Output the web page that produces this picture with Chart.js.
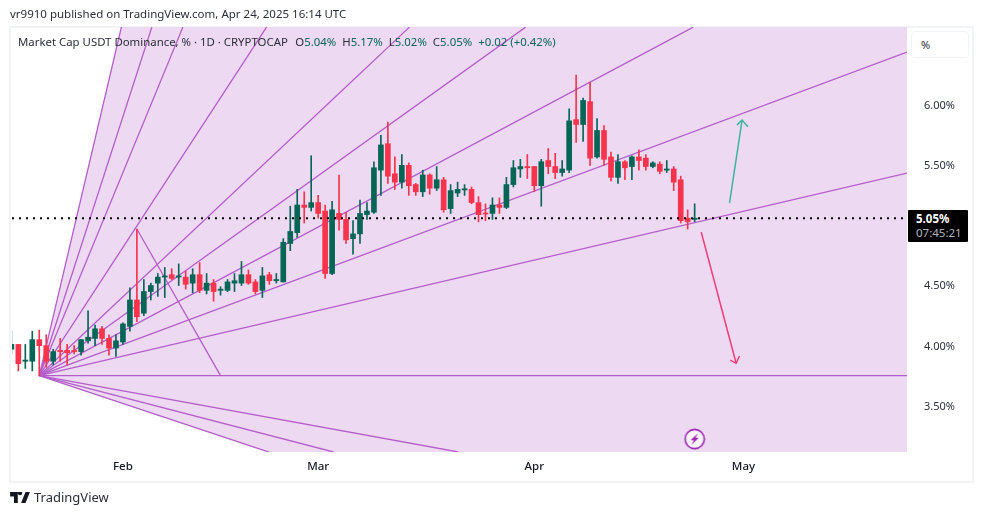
<!DOCTYPE html>
<html>
<head>
<meta charset="utf-8">
<title>Market Cap USDT Dominance</title>
<script src="https://cdn.jsdelivr.net/npm/chart.js@4"></script>
<style>
  html, body { margin: 0; padding: 0; background: #fff; overflow: hidden; }
  body { width: 983px; height: 515px; position: relative; font-family: "Noto Sans", sans-serif; color: #131722; }
  #frame { position: absolute; left: 9px; top: 26px; width: 961px; height: 453px; border: 2px solid #f2f3f5; }
  #chart { position: absolute; left: 0; top: 0; }
  .txt { position: absolute; white-space: nowrap; }
  #published { left: 10px; top: 6px; font-size: 11.5px; color: #2a2e39; }
  #legend { left: 18px; top: 34px; font-size: 11.4px; color: #2a2e39; }
  #legend b { font-weight: 400; color: #056656; }
  #legend span { margin-right: 6px; }
  #legend span.name { margin-right: 4.5px; }
  #unit { left: 911px; top: 31px; width: 56px; height: 25px; border: 1px solid #f0f3fa; border-radius: 4px; box-sizing: content-box; background: #fff; font-size: 11px; line-height: 25px; text-indent: 9px; color: #2a2e39; }
  #lastprice { left: 908px; top: 210px; width: 60px; height: 32px; background: #000; border-radius: 1px; font-size: 11.5px; line-height: 14px; text-indent: 8px; padding-top: 2px; box-sizing: border-box; color: #fff; }
  #lastprice b { display: block; }
  #lastprice i { display: block; font-style: normal; color: #b2b5be; }
  #logo { left: 10px; top: 488px; display: flex; align-items: center; font-size: 13px; color: #2a2e39; }
  #logo svg { margin-right: 4px; }
</style>
</head>
<body>
<div id="frame"></div>
<canvas id="chart" width="983" height="515"></canvas>
<div class="txt" id="published">vr9910 published on TradingView.com, Apr 24, 2025 16:14 UTC</div>
<div class="txt" id="legend"><span class="name">Market Cap USDT Dominance, % · 1D · CRYPTOCAP</span> <span>O<b>5.04%</b></span><span>H<b>5.17%</b></span><span>L<b>5.02%</b></span><span>C<b>5.05%</b></span><span><b>+0.02 (+0.42%)</b></span></div>
<div class="txt" id="unit">%</div>
<div class="txt" id="lastprice"><b>5.05%</b><i>07:45:21</i></div>
<div class="txt" id="logo"><svg width="20" height="11" viewBox="0 0 36 20"><path fill="#131722" d="M14 20H7V8H0V0h14zM28 20h-8L28 0h8zM18 6a4 4 0 1 0 0-8 4 4 0 0 0 0 8" /></svg>TradingView</div>
<script>
// candle index 0 = Jan 20 2025, one step per day
var days = [-4,-3,-2,-1,0,1,2,3,4,5,6,7,8,9,10,11,12,13,14,15,16,17,18,19,20,21,22,23,24,25,26,27,28,29,30,31,32,33,34,35,36,37,38,39,40,41,42,43,44,45,46,47,48,49,50,51,52,53,54,55,56,57,58,59,60,61,62,63,64,65,66,67,68,69,70,71,72,73,74,75,76,77,78,79,80,81,82,83,84,85,86,87,88,89,90,91,92,93,94];
var opens = [3.96,4.00,3.86,3.86,4.04,3.99,3.86,3.95,3.95,3.95,3.94,4.03,4.05,4.13,4.05,3.97,4.02,4.15,4.37,4.26,4.44,4.51,4.56,4.58,4.56,4.56,4.51,4.58,4.45,4.51,4.45,4.45,4.51,4.51,4.58,4.52,4.45,4.58,4.53,4.52,4.84,4.93,5.16,5.14,5.18,5.11,4.59,5.09,5.04,4.88,4.92,5.08,5.10,5.45,5.67,5.42,5.35,5.49,5.33,5.27,5.41,5.30,5.37,5.13,5.26,5.285,5.29,5.18,5.09,5.09,5.16,5.14,5.33,5.46,5.48,5.48,5.32,5.53,5.48,5.43,5.45,5.87,5.83,6.02,5.56,5.78,5.56,5.39,5.52,5.48,5.56,5.55,5.48,5.50,5.45,5.46,5.37,5.05,5.04];
var closes = [4.00,3.84,3.87,4.04,3.99,3.86,3.94,3.94,3.93,3.94,4.04,4.06,4.13,4.05,3.97,4.03,4.17,4.37,4.23,4.44,4.49,4.56,4.57,4.55,4.57,4.50,4.58,4.45,4.51,4.44,4.46,4.52,4.53,4.58,4.51,4.44,4.57,4.53,4.54,4.85,4.94,5.16,5.14,5.18,5.09,4.59,5.12,5.04,4.87,4.92,5.09,5.11,5.47,5.66,5.40,5.35,5.49,5.32,5.27,5.41,5.30,5.37,5.12,5.28,5.29,5.295,5.18,5.08,5.085,5.16,5.14,5.33,5.47,5.48,5.47,5.32,5.52,5.48,5.43,5.46,5.86,5.83,6.03,5.55,5.78,5.54,5.39,5.52,5.47,5.56,5.53,5.48,5.51,5.44,5.46,5.35,5.03,5.02,5.05];
var highs = [4.11,4.00,4.00,4.11,4.12,4.08,3.96,4.05,4.00,3.99,4.04,4.28,4.16,4.15,4.08,4.08,4.18,4.47,4.96,4.54,4.51,4.59,4.64,4.63,4.67,4.61,4.63,4.68,4.59,4.54,4.48,4.54,4.59,4.69,4.62,4.54,4.64,4.60,4.59,4.88,5.15,5.29,5.27,5.57,5.24,5.16,5.19,5.41,5.10,5.03,5.20,5.18,5.52,5.74,5.85,5.56,5.58,5.51,5.34,5.45,5.42,5.48,5.39,5.33,5.35,5.33,5.31,5.23,5.17,5.22,5.22,5.39,5.53,5.54,5.58,5.48,5.54,5.63,5.59,5.53,5.96,6.24,6.05,6.18,5.88,5.82,5.60,5.58,5.53,5.57,5.62,5.58,5.52,5.52,5.53,5.48,5.40,5.12,5.17];
var lows = [3.92,3.78,3.80,3.78,3.74,3.81,3.83,3.86,3.83,3.92,3.91,4.01,3.99,4.00,3.91,3.90,4.00,4.11,4.19,4.24,4.37,4.40,4.39,4.54,4.49,4.46,4.43,4.43,4.42,4.36,4.41,4.44,4.44,4.49,4.50,4.42,4.39,4.50,4.51,4.52,4.78,4.89,5.01,5.11,5.05,4.55,4.58,4.95,4.84,4.75,4.84,5.04,5.09,5.24,5.34,5.29,5.30,5.24,5.24,5.23,5.25,5.28,5.10,5.09,5.23,5.24,5.17,5.02,5.03,5.04,5.09,5.13,5.31,5.39,5.38,5.27,5.15,5.42,5.38,5.40,5.43,5.68,5.69,5.49,5.55,5.49,5.36,5.34,5.37,5.37,5.45,5.45,5.47,5.42,5.43,5.28,5.01,4.96,5.02];

var monthDays = [12, 40, 71, 101];
var monthNames = ['Feb', 'Mar', 'Apr', 'May'];
var priceTicks = [3.5, 4, 4.5, 5.5, 6];
var lastPrice = 5.05;

// fan drawing, one ray per end point from the anchor
var anchorDay = 0;
var anchorValue = 3.741;
var rayEndDays = [124.46, 16.15, 20.6, 32.6, 53.1, 69.75, 93.8, 124.46, 124.46, 124.46, 60.1, 42.2, 124.46];
var rayEndValues = [34.37, 6.64, 6.64, 6.64, 6.64, 6.64, 6.64, 6.433, 5.426, 3.741, 3.105, 3.105, 1.335];
var peakDays = [14, 26];
var peakValues = [4.96, 3.741];

var upDays = [99, 100.8];
var upValues = [5.176, 5.867];
var upHeadDays = [100.06, 100.8, 101.63];
var upHeadValues = [5.825, 5.867, 5.811];
var downDays = [94.94, 99.95];
var downValues = [4.935, 3.843];
var downHeadDays = [99.1, 99.95, 100.43];
var downHeadValues = [3.87, 3.843, 3.904];
var boltDay = [94];
var boltValue = [3.213];

var UP = '#056656', DOWN = '#f7344b', FAN = '#b35ec9', FAN_FILL = '#eed9f3';
var TEAL = '#3ab5a0', PINK = '#ee3f78';

function pts(xs, ys) {
  return xs.map(function (x, i) { return { x: x, y: ys[i] }; });
}
function ray(i) {
  return pts([anchorDay, rayEndDays[i]], [anchorValue, rayEndValues[i]]);
}
function candleColor(ctx) {
  var i = ctx.dataIndex;
  return closes[i] >= opens[i] ? UP : DOWN;
}

var datasets = [];
// fill between first and last ray
datasets.push({ type: 'line', data: ray(0), borderWidth: 0, pointRadius: 0, fill: 1, backgroundColor: FAN_FILL, order: 100 });
datasets.push({ type: 'line', data: ray(12), borderWidth: 0, pointRadius: 0, order: 100 });
// rays sit under the candles
rayEndDays.forEach(function (d, i) {
  datasets.push({ type: 'line', data: ray(i), borderColor: FAN, borderWidth: 1.3, pointRadius: 0, order: 60 });
});
datasets.push({ type: 'line', data: pts(peakDays, peakValues), borderColor: FAN, borderWidth: 1.3, pointRadius: 0, order: 60 });

datasets.push({ data: days.map(function (d, i) { return { x: d, y: [lows[i], highs[i]] }; }), backgroundColor: candleColor, barThickness: 1, grouped: false, order: 51 });
datasets.push({ data: days.map(function (d, i) { return { x: d, y: [opens[i], closes[i]] }; }), backgroundColor: candleColor, barThickness: 5, grouped: false, minBarLength: 1, order: 50 });

datasets.push({ type: 'line', data: pts([-3.911, 124.456], [lastPrice, lastPrice]), borderColor: '#000', borderWidth: 2, borderDash: [2, 5], pointRadius: 0, order: 5 });

datasets.push({ type: 'line', data: pts(upDays, upValues), borderColor: TEAL, borderWidth: 1.5, pointRadius: 0, order: 6 });
datasets.push({ type: 'line', data: pts(upHeadDays, upHeadValues), borderColor: TEAL, borderWidth: 1.5, pointRadius: 0, order: 6 });
datasets.push({ type: 'line', data: pts(downDays, downValues), borderColor: PINK, borderWidth: 1.5, pointRadius: 0, order: 6 });
datasets.push({ type: 'line', data: pts(downHeadDays, downHeadValues), borderColor: PINK, borderWidth: 1.5, pointRadius: 0, order: 6 });

// lightning marker
var bolt = document.createElement('canvas');
bolt.width = 22; bolt.height = 22;
var b = bolt.getContext('2d');
b.strokeStyle = '#9c27b0'; b.lineWidth = 1.6; b.fillStyle = '#fbf6fc';
b.beginPath(); b.arc(11, 11, 9.6, 0, Math.PI * 2); b.fill(); b.stroke();
b.fillStyle = '#9c27b0';
b.beginPath(); b.moveTo(14.5, 5); b.lineTo(7, 12); b.lineTo(10.2, 12.6); b.lineTo(7.5, 17); b.lineTo(15, 10); b.lineTo(11.8, 9.6); b.closePath(); b.fill();
datasets.push({ type: 'scatter', data: pts(boltDay, boltValue), pointStyle: bolt, pointRadius: 11, order: 1 });

new Chart(document.getElementById('chart'), {
  type: 'bar',
  data: { datasets: datasets },
  options: {
    responsive: false,
    animation: false,
    devicePixelRatio: 1,
    events: [],
    layout: { padding: { left: 11, top: 27, right: 10, bottom: 35 } },
    plugins: { legend: { display: false }, tooltip: { enabled: false } },
    scales: {
      x: {
        type: 'linear', min: -3.911, max: 124.456, offset: false,
        grid: { display: false }, border: { display: false },
        afterBuildTicks: function (s) { s.ticks = monthDays.map(function (v) { return { value: v }; }); },
        afterFit: function (s) { s.height = 28; },
        ticks: {
          autoSkip: false, maxRotation: 0, padding: 0, color: '#131722',
          font: { family: '"Noto Sans"', size: 11.5, weight: 500 },
          callback: function (v) { return monthNames[monthDays.indexOf(v)]; }
        }
      },
      y: {
        position: 'right', min: 3.105, max: 6.641,
        grid: { display: false }, border: { display: false },
        afterBuildTicks: function (s) { s.ticks = priceTicks.map(function (v) { return { value: v }; }); },
        afterFit: function (s) { s.width = 66; },
        ticks: {
          autoSkip: false, padding: 9, labelOffset: 2, color: '#2a2e39',
          font: { family: '"Noto Sans"', size: 11 },
          callback: function (v) { return v.toFixed(2) + '%'; }
        }
      }
    }
  }
});
</script>
</body>
</html>
